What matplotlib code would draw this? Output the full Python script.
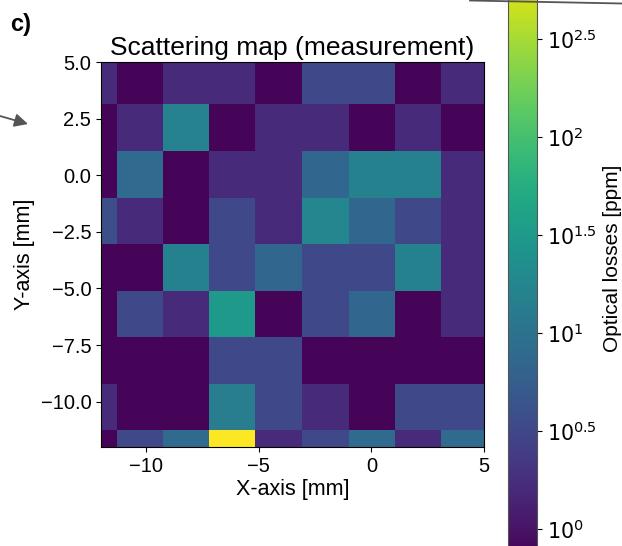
import numpy as np
import matplotlib
matplotlib.use("Agg")
import matplotlib.pyplot as plt
from matplotlib.colors import LogNorm
from matplotlib.lines import Line2D

# Bordes de las celdas [mm]
x_edges = [-13.4, -11.3, -9.25, -7.2, -5.15, -3.1, -1.0, 1.05, 3.1, 5.15]
y_edges = [5.2, 3.15, 1.05, -1.0, -3.05, -5.1, -7.15, -9.2, -11.25, -13.3]

# Pérdidas ópticas [ppm], filas de arriba (y=5) hacia abajo
losses = [
    [1.6, 0.75, 1.6, 1.6, 0.75, 3.2, 3.2, 0.75, 1.6],
    [0.75, 1.6, 15.5, 0.75, 1.6, 1.6, 0.75, 1.6, 0.75],
    [0.75, 7.7, 0.75, 1.6, 1.6, 7.2, 15.0, 15.0, 1.6],
    [3.8, 1.6, 0.75, 3.2, 1.6, 18.0, 7.2, 3.2, 1.6],
    [0.75, 0.75, 15.0, 3.2, 7.2, 3.2, 3.2, 15.0, 1.6],
    [0.75, 3.2, 1.6, 32.0, 0.75, 3.2, 7.2, 0.75, 1.6],
    [0.75, 0.75, 0.75, 3.2, 3.2, 0.75, 0.75, 0.75, 0.75],
    [1.6, 0.75, 0.75, 13.5, 3.2, 1.6, 0.75, 3.2, 3.2],
    [0.75, 3.2, 7.7, 810.0, 1.6, 3.2, 7.7, 1.6, 7.7],
]

vmin, vmax = 0.7, 810.0
cbar_ticks = [10**0, 10**0.5, 10**1, 10**1.5, 10**2, 10**2.5]
cbar_labels = ["$10^{0}$", "$10^{0.5}$", "$10^{1}$", "$10^{1.5}$", "$10^{2}$", "$10^{2.5}$"]

plt.rcParams["font.family"] = ["Liberation Sans", "DejaVu Sans"]
plt.rcParams["mathtext.fontset"] = "dejavusans"

fig = plt.figure(figsize=(6.22, 5.46), dpi=100)
ax = fig.add_axes([0.1624, 0.1813, 0.6158, 0.7051])

norm = LogNorm(vmin=vmin, vmax=vmax)
mesh = ax.pcolormesh(x_edges, y_edges, np.array(losses), cmap="viridis", norm=norm)
ax.set_xlim(-12, 5)
ax.set_ylim(-12, 5)
ax.set_xticks([-10, -5, 0, 5])
ax.set_yticks([5.0, 2.5, 0.0, -2.5, -5.0, -7.5, -10.0])
ax.tick_params(labelsize=14.5)
ax.set_title("Scattering map (measurement)", fontsize=19, pad=5)
ax.set_xlabel("X-axis [mm]", fontsize=15.5, labelpad=2)
ax.set_ylabel("Y-axis [mm]", fontsize=15.5)

# Barra de color, más alta que el mapa (recortada del panel original)
px_dec = 196 / 546
y0 = 1 - 529 / 546
cb_bottom = y0 + np.log10(vmin) * px_dec
cb_height = (np.log10(vmax) - np.log10(vmin)) * px_dec
cax = fig.add_axes([508 / 622, cb_bottom, 29 / 622, cb_height])
cbar = fig.colorbar(mesh, cax=cax)
cbar.minorticks_off()
cbar.set_ticks(cbar_ticks)
cbar.set_ticklabels(cbar_labels)
cax.tick_params(labelsize=14.8)
for lab in cax.get_yticklabels():
    lab.set_family("DejaVu Sans")
cbar.outline.set_edgecolor("#555555")
fig.text(612 / 622, 1 - 258 / 546, "Optical losses [ppm]", rotation=90,
         ha="center", va="center", fontsize=15)

# Etiqueta del panel y flechas del montaje original
fig.text(10 / 622, 1 - 31 / 546, "c)", fontsize=17, fontweight="bold")
ax.annotate("", xy=(28, 546 - 124), xycoords="figure pixels",
            xytext=(0, 546 - 116), textcoords="figure pixels",
            arrowprops=dict(arrowstyle="-|>", color="#555555", lw=1.3,
                            mutation_scale=20, shrinkA=0, shrinkB=0))
fig.add_artist(Line2D([470 / 622, 1.0], [1 - 0.5 / 546, 1 - 3.5 / 546],
                      color="#555555", lw=1.3))

fig.savefig("out.png", dpi=100)
